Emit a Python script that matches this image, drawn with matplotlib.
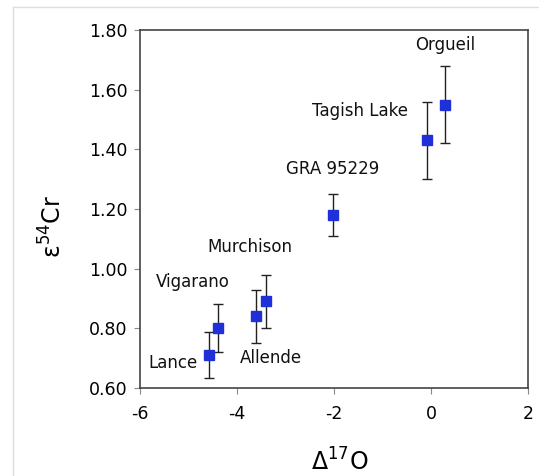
import matplotlib
matplotlib.use("Agg")
import matplotlib.pyplot as plt
from matplotlib.lines import Line2D

names = ["Lance", "Vigarano", "Allende", "Murchison", "GRA 95229", "Tagish Lake", "Orgueil"]
d17O = [-4.57, -4.39, -3.61, -3.40, -2.03, -0.09, 0.29]
e54Cr = [0.71, 0.80, 0.84, 0.89, 1.18, 1.43, 1.55]
err = [0.077, 0.08, 0.09, 0.09, 0.07, 0.13, 0.13]
label_x = [-5.32, -4.91, -3.31, -3.73, -2.03, -1.47, 0.29]
label_y = [0.684, 0.956, 0.702, 1.073, 1.334, 1.527, 1.75]
xticks = [-6, -4, -2, 0, 2]
yticks = [0.60, 0.80, 1.00, 1.20, 1.40, 1.60, 1.80]

plt.rcParams['font.family'] = ['DejaVu Sans']
fig = plt.figure(figsize=(5.39, 4.76), dpi=100)
ax = fig.add_axes([140/539, 1-388/476, 388/539, 358/476])

ax.errorbar(d17O, e54Cr, yerr=err, fmt='s', color='#2030d8', markersize=7.5,
            ecolor='#222222', elinewidth=1.0, capsize=3.5, capthick=1.0, zorder=3)

for n, lx, ly in zip(names, label_x, label_y):
    ax.text(lx, ly, n, ha='center', va='center', fontsize=12, color='#111111')

ax.set_xlim(-6, 2)
ax.set_ylim(0.6, 1.8)
ax.set_xticks(xticks)
ax.set_yticks(yticks)
ax.set_xticklabels([str(t) for t in xticks])
ax.set_yticklabels([f"{t:.2f}" for t in yticks])
ax.tick_params(direction='out', length=4, width=0.8, color='#888888', labelsize=12.5, pad=5)
ax.tick_params(axis='x', pad=8)
for s in ax.spines.values():
    s.set_color('#444444')
    s.set_linewidth(1.2)

fig.text(340/539, 1-462/476, r'$\mathrm{\Delta}^{17}$O', ha='center', va='center', fontsize=17,
         math_fontfamily='dejavusans')
fig.text(53/539, 1-227/476, r'$\mathrm{ε}^{54}$Cr', ha='center', va='center', fontsize=17,
         rotation=90, math_fontfamily='dejavusans')

# light frame around chart area
fig.add_artist(Line2D([13/539, 13/539], [0, 1-7/476], transform=fig.transFigure, color='#dddddd', lw=1))
fig.add_artist(Line2D([13/539, 1], [1-7/476, 1-7/476], transform=fig.transFigure, color='#dddddd', lw=1))

fig.savefig('out.png', dpi=100)
